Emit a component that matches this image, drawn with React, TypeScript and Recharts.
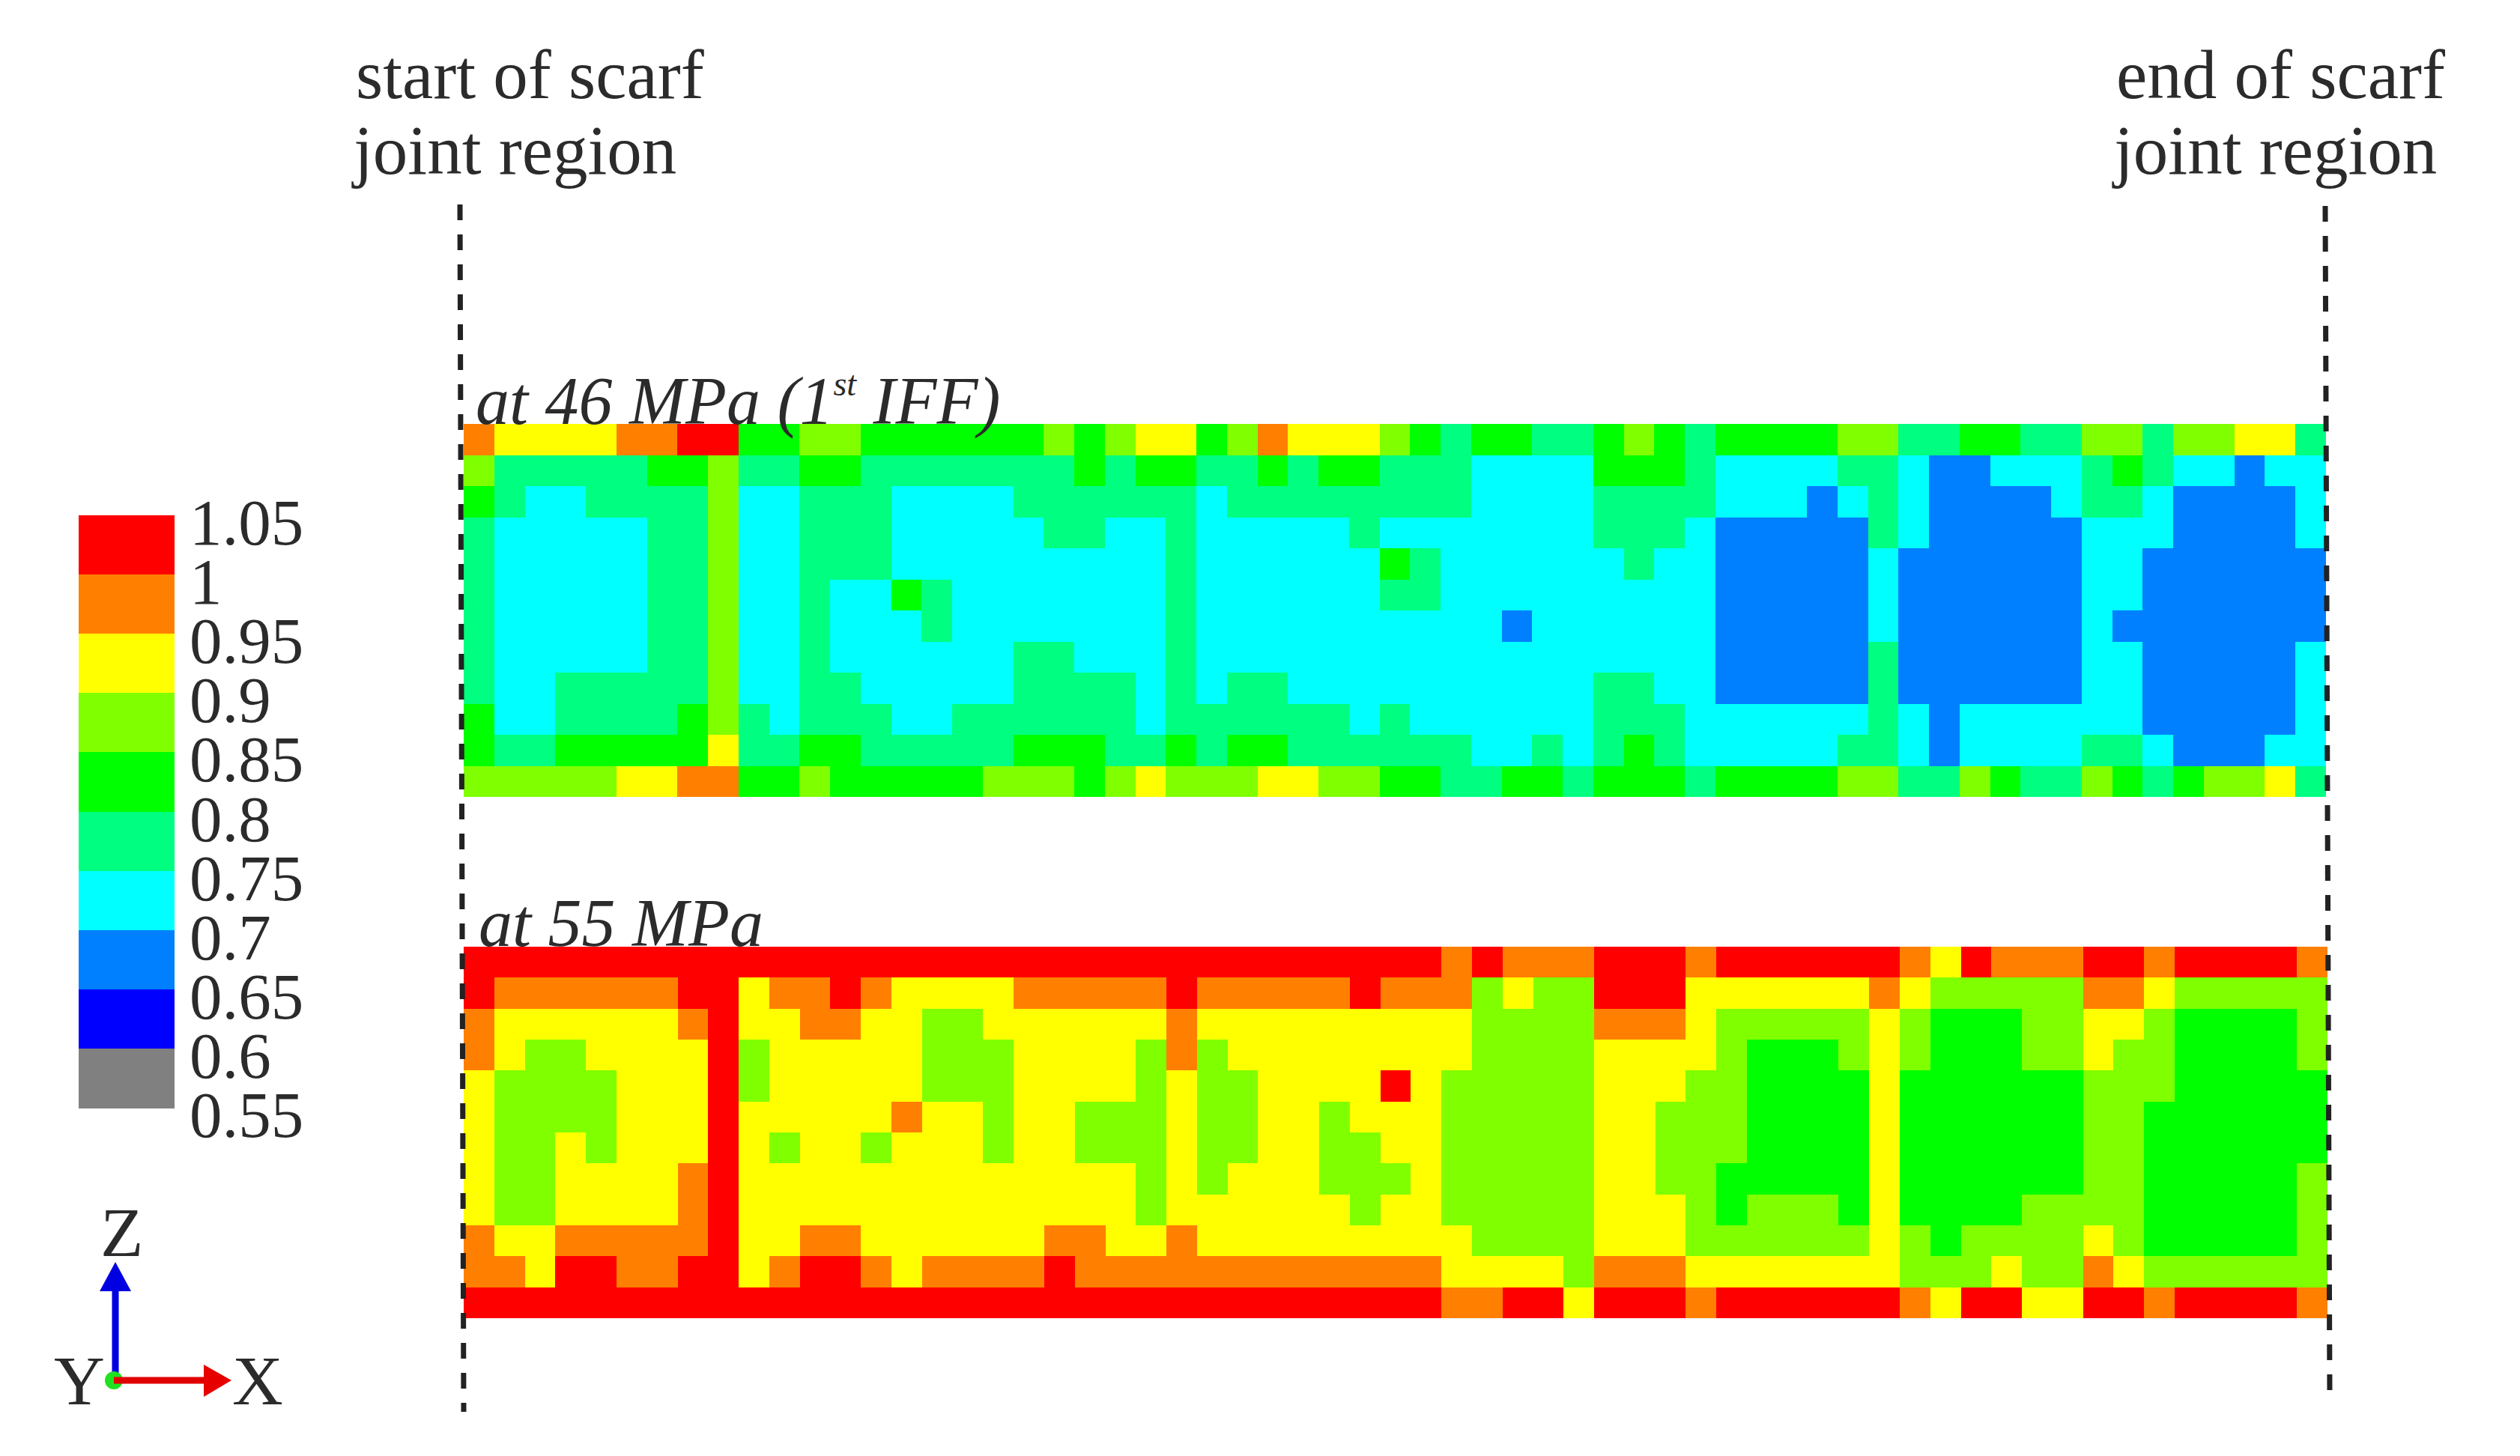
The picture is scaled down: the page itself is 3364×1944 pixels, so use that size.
import { Scatter, ScatterChart, XAxis, YAxis } from "recharts";

// contour band for each element, one string per row, 61 columns
// R 1-1.05, O .95-1, Y .9-.95, L .85-.9, G .8-.85, S .75-.8, C .7-.75, B .65-.7
const rowsAt46 = [
  "OYYYYOORRG GLLGGGGGGL GLYYGLOYYY LGSGGSSGLG SGGGGLLSSG GSSLLSLLYYS",
  "LSSSSSGGLS SGGSSSSSSS GSGGSSGSGG SSSCCCCGGG SCCCCSSCBB CCCSGSCCBCC",
  "GSCCSSSSLC CSSSCCCCSS SSSSCSSSSS SSSCCCCSSS SCCCBCSCBB BBCSSCBBBBC",
  "SCCCCCSSLC CSSSCCCCCS SCCSCCCCCS CCCCCCCSSS CBBBBBSCBB BBBCCCBBBBC",
  "SCCCCCSSLC CSSSCCCCCC CCCSCCCCCC GSCCCCCCSC CBBBBBCBBB BBBCCBBBBBB",
  "SCCCCCSSLC CSCCGSCCCC CCCSCCCCCC SSCCCCCCCC CBBBBBCBBB BBBCCBBBBBB",
  "SCCCCCSSLC CSCCCSCCCC CCCSCCCCCC CCCCBCCCCC CBBBBBCBBB BBBCBBBBBBB",
  "SCCCCCSSLC CSCCCCCCSS CCCSCCCCCC CCCCCCCCCC CBBBBBSBBB BBBCCBBBBBC",
  "SCCSSSSSLC CSSCCCCCSS SSCSCSSCCC CCCCCCCSSC CBBBBBSBBB BBBCCBBBBBC",
  "GCCSSSSGLS CSSSCCSSSS SSCSSSSSSC SCCCCCCSSS CCCCCCSCBC CCCCCBBBBBC",
  "GSSGGGGGYS SGGSSSSSGG GSSGSGGSSS SSSCCSCSGS CCCCCSSCBC CCCSSCBBBCC",
  "LLLLLYYOOG GLGGGGGLLL GLYLLLYYLL GGSSGGSGGG SGGGGLLSSL GSSLGSGLLYS",
];

const rowsAt55 = [
  "RRRRRRRRRR RRRRRRRRRR RRRRRRRRRR RROROOORRR ORRRRRROYR OOORRORRRRO",
  "ROOOOOORRY OOROYYYYOO OOOROOOOOR OOOLYLLRRR YYYYYYOYLL LLLOOYLLLLL",
  "OYYYYYYORY YOOYYLLYYY YYYOYYYYYY YYYLLLLOOO YLLLLLYLGG GLLYYLGGGGL",
  "OYLLYYYYRL YYYYYLLLYY YYLOLYYYYY YYYLLLLYYY YLGGGLYLGG GLLYLLGGGGL",
  "YLLLLYYYRL YYYYYLLLYY YYLYLLYYYY RYLLLLLYYY LLGGGGYGGG GGGLLLGGGGG",
  "YLLLLYYYRY YYYYOYYLYY LLLYLLYYLY YYLLLLLYYL LLGGGGYGGG GGGLLGGGGGG",
  "YLLYLYYYRY LYYLYYYLYY LLLYLLYYLL YYLLLLLYYL LLGGGGYGGG GGGLLGGGGGG",
  "YLLYYYYORY YYYYYYYYYY YYLYLYYYLL LYLLLLLYYL LGGGGGYGGG GGGLLGGGGGL",
  "YLLYYYYORY YYYYYYYYYY YYLYYYYYYL YYLLLLLYYY LGLLLGYGGG GLLLLGGGGGL",
  "OYYOOOOORY YOOYYYYYYO OYYOYYYYYY YYYLLLLYYY LLLLLLYLGL LLLYLGGGGGL",
  "OOYRROORRY ORROYOOOOR OOOOOOOOOO OOYYYYLOOO YYYYYYYLLL YLLOYLLLLLL",
  "RRRRRRRRRR RRRRRRRRRR RRRRRRRRRR RROORRYRRR ORRRRRROYR RYYRRORRRRO",
];

const bandCodes = ["R", "O", "Y", "L", "G", "S", "C", "B", "D", "A"];
const bandValues = [1.025, 0.975, 0.925, 0.875, 0.825, 0.775, 0.725, 0.675, 0.625, 0.575];
const bandColors = [
  "#ff0000",
  "#ff8000",
  "#ffff00",
  "#80ff00",
  "#00ff00",
  "#00ff80",
  "#00ffff",
  "#0080ff",
  "#0000ff",
  "#808080",
];
const legendTicks = [1.05, 1, 0.95, 0.9, 0.85, 0.8, 0.75, 0.7, 0.65, 0.6, 0.55];

const INK = "#2b2b2b";
const SERIF = "'Liberation Serif', serif";

const colorOf = (value: number) => bandColors[bandValues.indexOf(value)];

const toCells = (rows: string[]) =>
  rows.flatMap((row, r) =>
    row
      .replace(/ /g, "")
      .split("")
      .map((code, c) => ({
        x: c + 0.5,
        y: r + 0.5,
        value: bandValues[bandCodes.indexOf(code)],
      }))
  );

const legendCells = bandValues.map((value) => ({ x: 0.5, y: value, value }));

interface HeatPanelProps {
  rows: string[];
  left: number;
  top: number;
  width: number;
  height: number;
}

function HeatPanel({ rows, left, top, width, height }: HeatPanelProps) {
  const columns = rows[0].replace(/ /g, "").length;
  const cellW = width / columns;
  const cellH = height / rows.length;
  return (
    <div style={{ position: "absolute", left, top }}>
      <ScatterChart
        width={width}
        height={height}
        margin={{ top: 0, right: 0, bottom: 0, left: 0 }}
      >
        <XAxis type="number" dataKey="x" domain={[0, columns]} hide />
        <YAxis type="number" dataKey="y" domain={[0, rows.length]} reversed hide />
        <Scatter
          data={toCells(rows)}
          isAnimationActive={false}
          shape={(props: any) => (
            <rect
              x={props.cx - cellW / 2}
              y={props.cy - cellH / 2}
              width={cellW + 0.5}
              height={cellH + 0.5}
              shapeRendering="crispEdges"
              fill={colorOf(props.payload.value)}
            />
          )}
        />
      </ScatterChart>
    </div>
  );
}

const LegendTick = ({ x, y, payload }: any) => (
  <text
    x={x + 12}
    y={y + 39}
    fontFamily={SERIF}
    fontSize={87}
    fill={INK}
  >
    {payload.value}
  </text>
);

function Legend() {
  const cellW = 128;
  const cellH = 79.1;
  return (
    <div style={{ position: "absolute", left: 105, top: 628 }}>
      <ScatterChart
        width={340}
        height={931}
        margin={{ top: 60, right: 0, bottom: 80, left: 0 }}
      >
        <XAxis type="number" dataKey="x" domain={[0, 1]} hide />
        <YAxis
          type="number"
          dataKey="y"
          orientation="right"
          domain={[0.55, 1.05]}
          ticks={legendTicks}
          interval={0}
          width={212}
          axisLine={false}
          tickLine={false}
          tick={<LegendTick />}
        />
        <Scatter
          data={legendCells}
          isAnimationActive={false}
          shape={(props: any) => (
            <rect
              x={props.cx - cellW / 2}
              y={props.cy - cellH / 2}
              width={cellW}
              height={cellH + 0.5}
              shapeRendering="crispEdges"
              fill={colorOf(props.payload.value)}
            />
          )}
        />
      </ScatterChart>
    </div>
  );
}

function Annotations() {
  const title = { fontFamily: SERIF, fontSize: 93, fill: INK };
  const panel = { fontFamily: SERIF, fontSize: 90, fontStyle: "italic", fill: INK };
  const axis = { fontFamily: SERIF, fontSize: 94, fill: INK };
  const dash = { stroke: "#222", strokeWidth: 7, strokeDasharray: "21 19" };
  return (
    <svg
      width={3364}
      height={1944}
      style={{ position: "absolute", left: 0, top: 0, pointerEvents: "none" }}
    >
      <text x={475} y={131} {...title}>start of scarf</text>
      <text x={472} y={232} {...title}>joint region</text>
      <text x={2825} y={131} {...title}>end of scarf</text>
      <text x={2822} y={232} {...title}>joint region</text>

      <line x1={614} y1={273} x2={619} y2={1885} {...dash} />
      <line x1={3104} y1={275} x2={3110} y2={1862} {...dash} />

      <text x={635} y={566} {...panel}>
        at 46 MPa (1
        <tspan fontSize={46} dy={-38}>st</tspan>
        <tspan dy={38}> IFF)</tspan>
      </text>
      <text x={639} y={1263} {...panel}>at 55 MPa</text>

      <line x1={154} y1={1842} x2={154} y2={1722} stroke="#0000e0" strokeWidth={9} />
      <polygon points="154,1685 133,1724 175,1724" fill="#0000e0" />
      <circle cx={152} cy={1843} r={12} fill="#22e022" />
      <line x1={152} y1={1843} x2={274} y2={1843} stroke="#e00000" strokeWidth={9} />
      <polygon points="309,1843 272,1822 272,1865" fill="#e60000" />
      <text x={134} y={1677} {...axis}>Z</text>
      <text x={72} y={1875} {...axis}>Y</text>
      <text x={310} y={1875} {...axis}>X</text>
    </svg>
  );
}

export default function App() {
  return (
    <div
      style={{
        position: "absolute",
        left: 0,
        top: 0,
        width: 3364,
        height: 1944,
        background: "#fff",
        overflow: "hidden",
      }}
    >
      <HeatPanel rows={rowsAt46} left={619} top={566} width={2486} height={498} />
      <HeatPanel rows={rowsAt55} left={619} top={1264} width={2488} height={496} />
      <Legend />
      <Annotations />
    </div>
  );
}
